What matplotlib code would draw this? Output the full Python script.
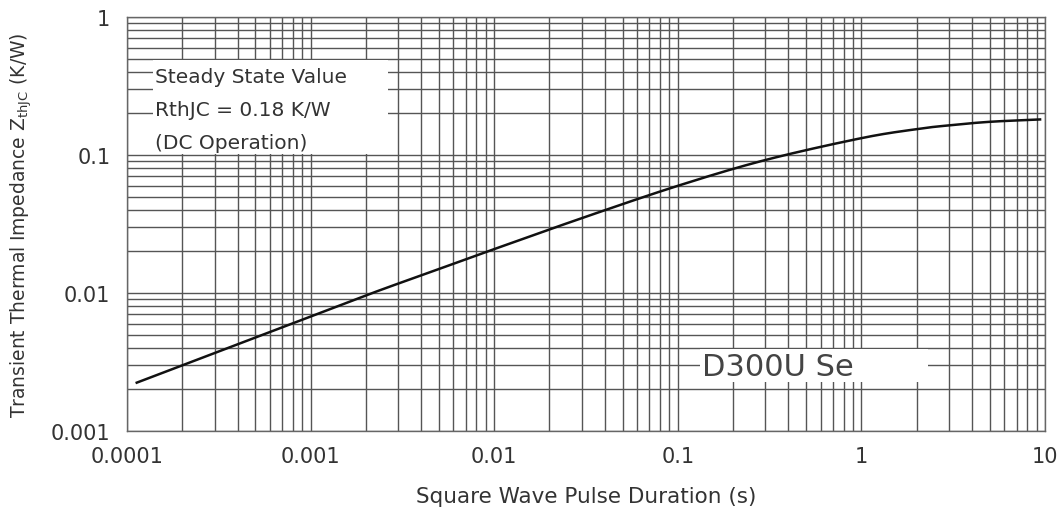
import numpy as np
import matplotlib.pyplot as plt
from matplotlib.ticker import FixedLocator, NullFormatter, LogLocator
from matplotlib.patches import Rectangle

# data
pulse_s = [1.13e-4, 4e-4, 2e-3, 4e-3, 1e-2, 3.1e-2, 0.1, 0.3, 1, 2, 3, 5, 9.4]
zth_kw = [0.00224, 0.00425, 0.0096, 0.0134, 0.0208, 0.0354, 0.0598, 0.092, 0.1325, 0.154, 0.164, 0.174, 0.181]

xticks = [1e-4, 1e-3, 1e-2, 1e-1, 1, 10]
xtick_labels = ['0.0001', '0.001', '0.01', '0.1', '1', '10']
yticks = [1e-3, 1e-2, 1e-1, 1]
ytick_labels = ['0.001', '0.01', '0.1', '1']

plt.rcParams['font.family'] = ['DejaVu Sans']
txt = '#333333'


def catmull_rom(px, py, n=40):
    # smooth curve through the read points (log space)
    px = np.r_[2*px[0] - px[1], px, 2*px[-1] - px[-2]]
    py = np.r_[2*py[0] - py[1], py, 2*py[-1] - py[-2]]
    out_x, out_y = [], []
    for i in range(1, len(px) - 2):
        t = np.linspace(0, 1, n, endpoint=False)
        for arr, p in ((out_x, px), (out_y, py)):
            p0, p1, p2, p3 = p[i-1], p[i], p[i+1], p[i+2]
            arr.extend(0.5*((2*p1) + (-p0 + p2)*t + (2*p0 - 5*p1 + 4*p2 - p3)*t**2
                            + (-p0 + 3*p1 - 3*p2 + p3)*t**3))
    out_x.append(px[-2])
    out_y.append(py[-2])
    return np.array(out_x), np.array(out_y)


fig = plt.figure(figsize=(10.6, 5.1), dpi=100)
ax = fig.add_axes([127/1060, 1 - 432/510, 918/1060, 414/510])

cx, cy = catmull_rom(np.log10(pulse_s), np.log10(zth_kw))
ax.plot(10**cx, 10**cy, color='#111111', lw=1.8, zorder=5)

ax.set_xscale('log')
ax.set_yscale('log')
ax.set_xlim(1e-4, 10)
ax.set_ylim(1e-3, 1)

ax.xaxis.set_major_locator(FixedLocator(xticks))
ax.set_xticklabels(xtick_labels)
ax.yaxis.set_major_locator(FixedLocator(yticks))
ax.set_yticklabels(ytick_labels)
ax.xaxis.set_minor_locator(LogLocator(base=10, subs=np.arange(2, 10)))
ax.yaxis.set_minor_locator(LogLocator(base=10, subs=np.arange(2, 10)))
ax.xaxis.set_minor_formatter(NullFormatter())
ax.yaxis.set_minor_formatter(NullFormatter())

ax.grid(True, which='both', color='#555555', lw=1.0)
ax.tick_params(which='both', length=0, labelsize=15, labelcolor=txt)
ax.tick_params(axis='x', pad=11)
ax.tick_params(axis='y', pad=12)
for s in ax.spines.values():
    s.set_color('#666666')
    s.set_linewidth(1.0)

ax.set_xlabel('Square Wave Pulse Duration (s)', fontsize=15.5, color=txt, labelpad=14)
ax.set_ylabel(r'Transient Thermal Impedance $\mathregular{Z_{thJC}}$ (K/W)',
              fontsize=13.5, color=txt, labelpad=12)

# white label boxes that cut the grid
ax.add_patch(Rectangle((1.39e-4, 0.102), 2.64e-3 - 1.39e-4, 0.49 - 0.102,
                       facecolor='white', edgecolor='none', zorder=3))
ax.text(1.42e-4, 0.214, 'Steady State Value\nRthJC = 0.18 K/W\n(DC Operation)',
        fontsize=14.5, color=txt, va='center', ha='left', linespacing=1.95, zorder=6)

ax.add_patch(Rectangle((0.132, 0.00228), 2.31 - 0.132, 0.00395 - 0.00228,
                       facecolor='white', edgecolor='none', zorder=3))
ax.text(0.136, 0.00292, 'D300U Se', fontsize=22, color='#444444',
        va='center', ha='left', zorder=6)

fig.savefig('out.png', dpi=100)
